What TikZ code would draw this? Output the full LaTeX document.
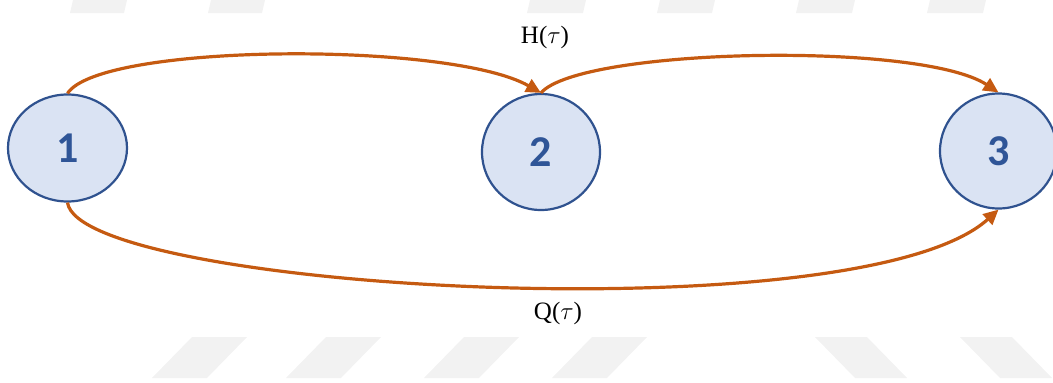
\documentclass[tikz,border=0pt]{standalone}
\usepackage{fontspec}
\setmainfont{Liberation Serif}
\newfontfamily\numfont{Carlito}
\usetikzlibrary{arrows.meta,shapes.geometric}
\definecolor{nodefill}{RGB}{218,227,243}
\definecolor{nodeline}{RGB}{47,82,143}
\definecolor{numblue}{RGB}{47,85,151}
\definecolor{flowcol}{RGB}{197,90,17}
\definecolor{wmgray}{RGB}{242,242,242}
\begin{document}
\begin{tikzpicture}[x=1pt,y=-1pt,
  state/.style={ellipse, draw=nodeline, line width=2.2pt, fill=nodefill, inner sep=0pt,
    font=\numfont\bfseries\fontsize{44}{44}\selectfont, text=numblue},
  flow/.style={draw=flowcol, line width=3.2pt, -{Triangle[length=15pt,width=14pt]}},
  lbl/.style={font=\fontsize{25}{25}\selectfont, text=black, inner sep=0pt},
  wm/.style={fill=wmgray, draw=none}]
\useasboundingbox (0,0) rectangle (1053,383);
% faint watermark stripes
\foreach \a/\b in {70/124,208/262,527/583,657/712,796/852,927/983}
  \fill[wm] (\a,13) -- (\b,13) -- (\b+3,0) -- (\a+3,0) -- cycle;
\foreach \a in {152,286,424,552}
  \fill[wm] (\a,378) -- (\a+55,378) -- (\a+95,337) -- (\a+40,337) -- cycle;
\foreach \a in {815,960}
  \fill[wm] (\a,337) -- (\a+52,337) -- (\a+92,378) -- (\a+40,378) -- cycle;
% states
\node[state, minimum width=119pt, minimum height=107pt] (n1) at (67.5,148) {1};
\node[state, minimum width=118pt, minimum height=116pt] (n2) at (541,152) {2};
\node[state, minimum width=117pt, minimum height=115pt] (n3) at (998.5,151) {3};
% flows
\draw[flow] (n1.north) .. controls (100,43) and (450,41) .. (n2.north);
\draw[flow] (n2.north) .. controls (580,48) and (920,41) .. (n3.north);
\draw[flow] (n1.south) .. controls (80,290) and (860,335) .. (n3.south);
% labels
\node[lbl] (h) at (545,37) {H($\tau$)};
\node[lbl] (q) at (558,313) {Q($\tau$)};
\end{tikzpicture}
\end{document}
